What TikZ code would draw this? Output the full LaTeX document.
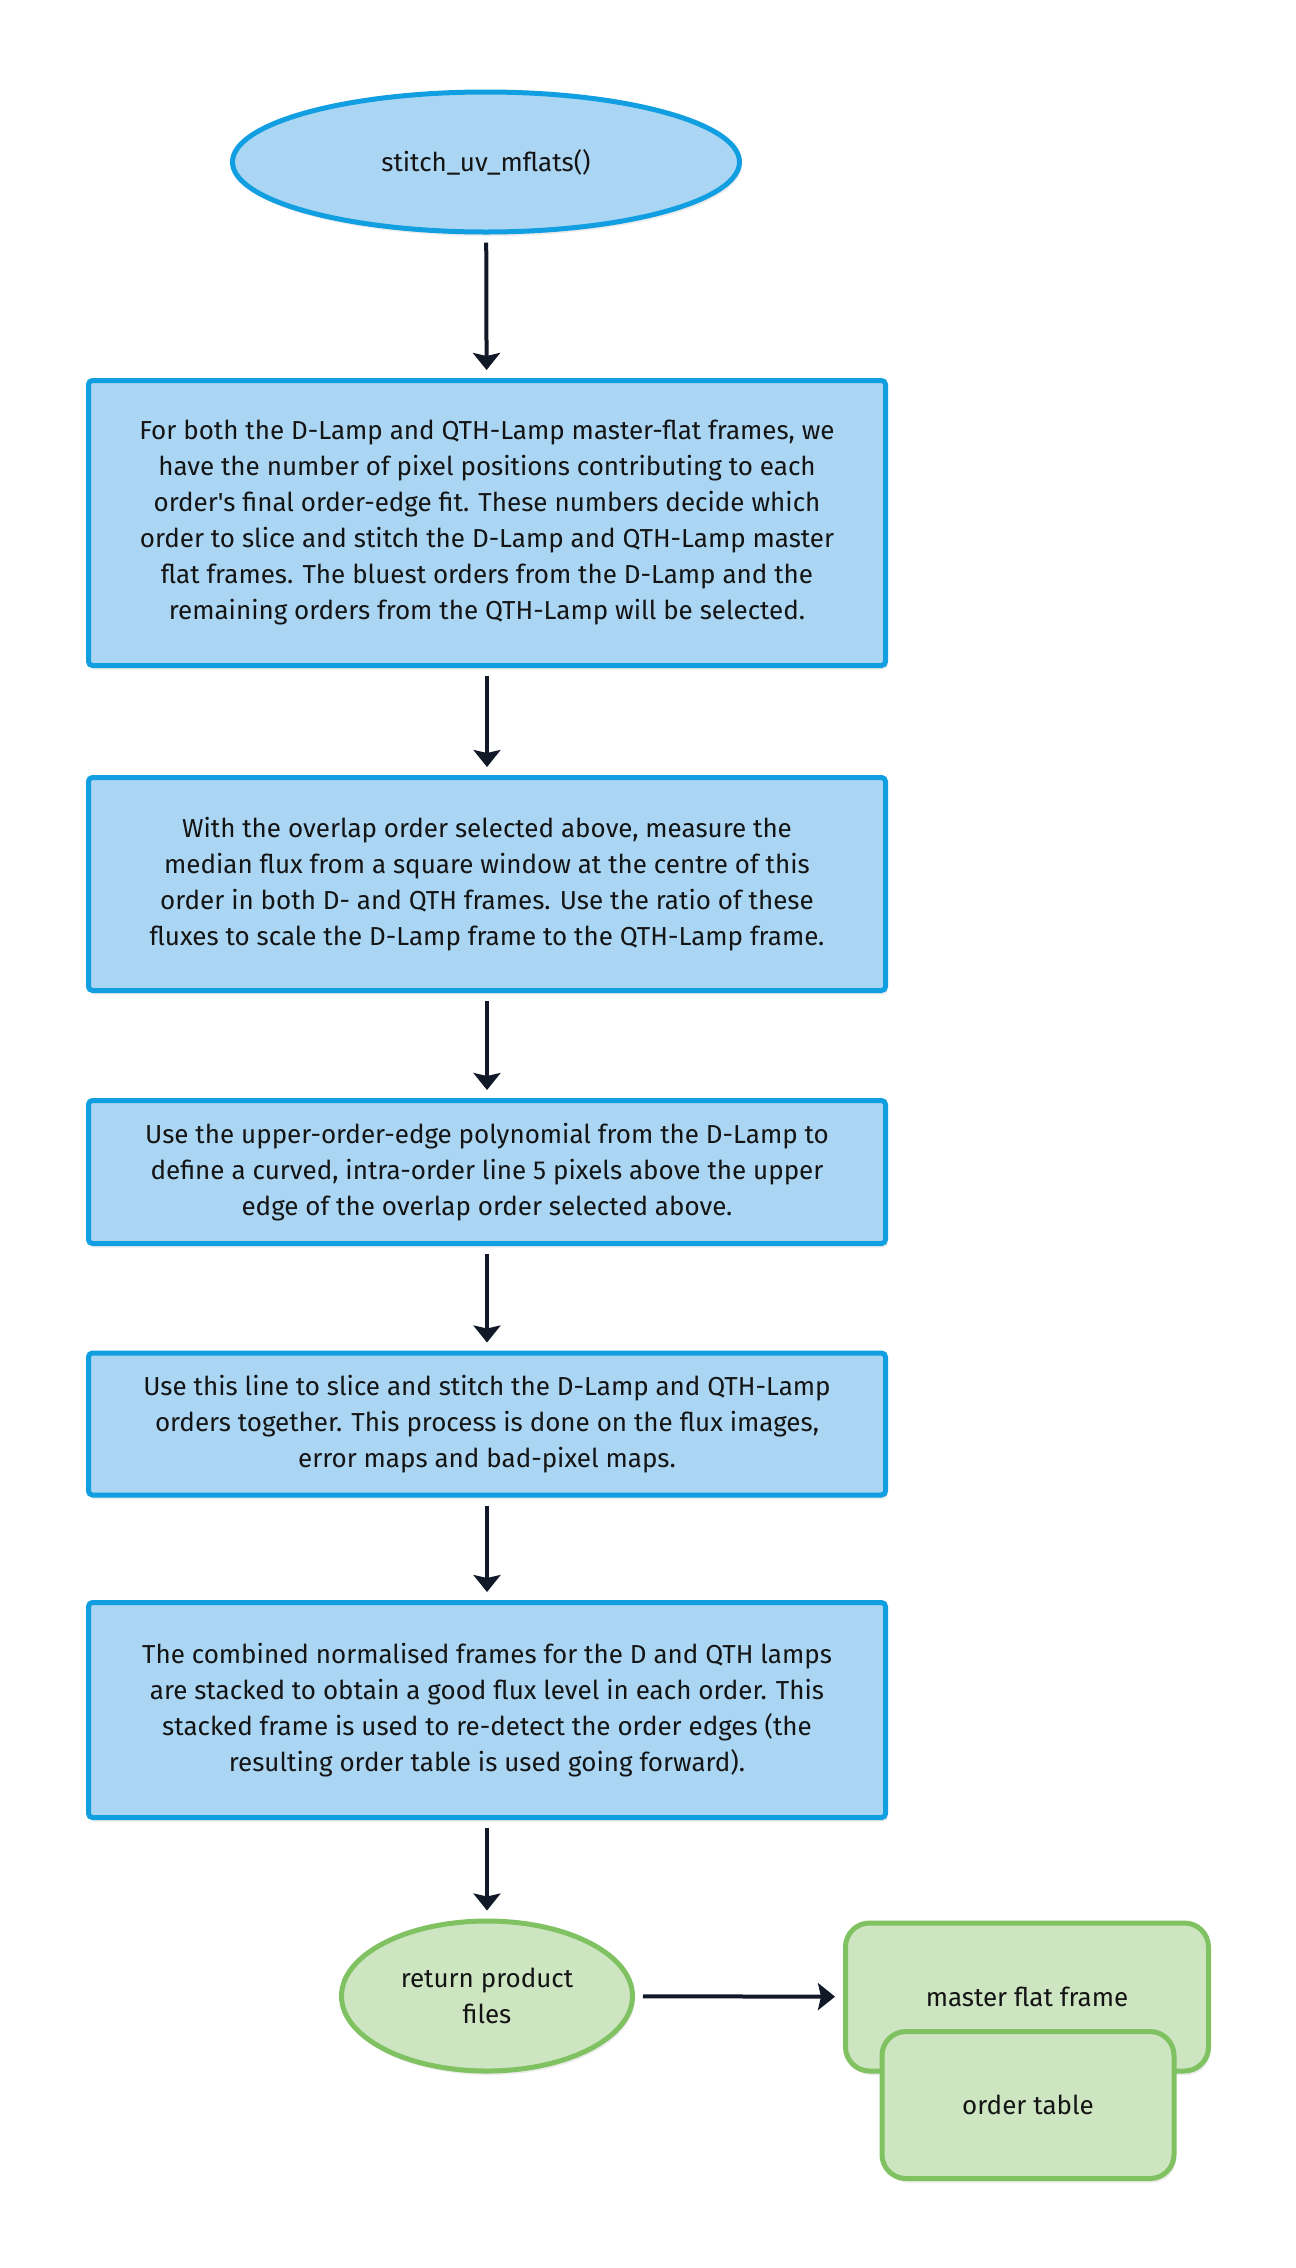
\documentclass[tikz,border=0pt]{standalone}
\usepackage{fontspec}
\setmainfont{Fira Sans}[Ligatures=TeXOff]
\usetikzlibrary{shapes.geometric,arrows.meta,shadows}
\definecolor{bfill}{HTML}{AAD6F3}
\definecolor{bline}{HTML}{129FE2}
\definecolor{gfill}{HTML}{CDE6C1}
\definecolor{gline}{HTML}{80C262}
\definecolor{arr}{HTML}{111827}
\definecolor{txt}{HTML}{141414}
\begin{document}
\begin{tikzpicture}[x=1pt,y=-1pt,
  base/.style={line width=5pt, text=txt, font=\fontsize{26}{36}\selectfont, align=center, inner sep=0pt,
    drop shadow={opacity=0.15, shadow xshift=2pt, shadow yshift=-4pt}},
  blueell/.style={base, ellipse, draw=bline, fill=bfill, minimum width=507pt, minimum height=140pt},
  bluebox/.style={base, rectangle, rounded corners=4pt, draw=bline, fill=bfill, minimum width=797pt},
  greenell/.style={base, ellipse, draw=gline, fill=gfill, minimum width=291pt, minimum height=150pt},
  greenbox/.style={base, rectangle, rounded corners=24pt, draw=gline, fill=gfill},
  conn/.style={line width=4pt, draw=arr, -{Stealth[length=17pt,width=27pt,inset=3pt]}, shorten <=8pt, shorten >=8pt}
]
\useasboundingbox[fill=white] (0,0) rectangle (1296,2268);

\node[blueell] (start) at (486,162) {stitch\_uv\_mflats()};

\node[bluebox, minimum height=285pt] (b1) at (487,523) {For both the D-Lamp and QTH-Lamp master-flat frames, we\\
have the number of pixel positions contributing to each\\
order's final order-edge fit. These numbers decide which\\
order to slice and stitch the D-Lamp and QTH-Lamp master\\
flat frames. The bluest orders from the D-Lamp and the\\
remaining orders from the QTH-Lamp will be selected.};

\node[bluebox, minimum height=213pt] (b2) at (487,884) {With the overlap order selected above, measure the\\
median flux from a square window at the centre of this\\
order in both D- and QTH frames. Use the ratio of these\\
fluxes to scale the D-Lamp frame to the QTH-Lamp frame.};

\node[bluebox, minimum height=143pt] (b3) at (487,1172) {Use the upper-order-edge polynomial from the D-Lamp to\\
define a curved, intra-order line 5 pixels above the upper\\
edge of the overlap order selected above.};

\node[bluebox, minimum height=142pt] (b4) at (487,1424) {Use this line to slice and stitch the D-Lamp and QTH-Lamp\\
orders together. This process is done on the flux images,\\
error maps and bad-pixel maps.};

\node[bluebox, minimum height=215pt] (b5) at (487,1710) {The combined normalised frames for the D and QTH lamps\\
are stacked to obtain a good flux level in each order. This\\
stacked frame is used to re-detect the order edges (the\\
resulting order table is used going forward).};

\node[greenell] (ret) at (487,1996) {return product\\files};

\node[greenbox, minimum width=363pt, minimum height=148pt] (mff) at (1027,1997) {master flat frame};
\node[greenbox, minimum width=292pt, minimum height=147pt] (ot) at (1028,2105) {order table};

\draw[conn] (start) -- (b1);
\draw[conn] (b1) -- (b2);
\draw[conn] (b2) -- (b3);
\draw[conn] (b3) -- (b4);
\draw[conn] (b4) -- (b5);
\draw[conn] (b5) -- (ret);
\draw[conn] (ret) -- (mff);
\end{tikzpicture}
\end{document}
